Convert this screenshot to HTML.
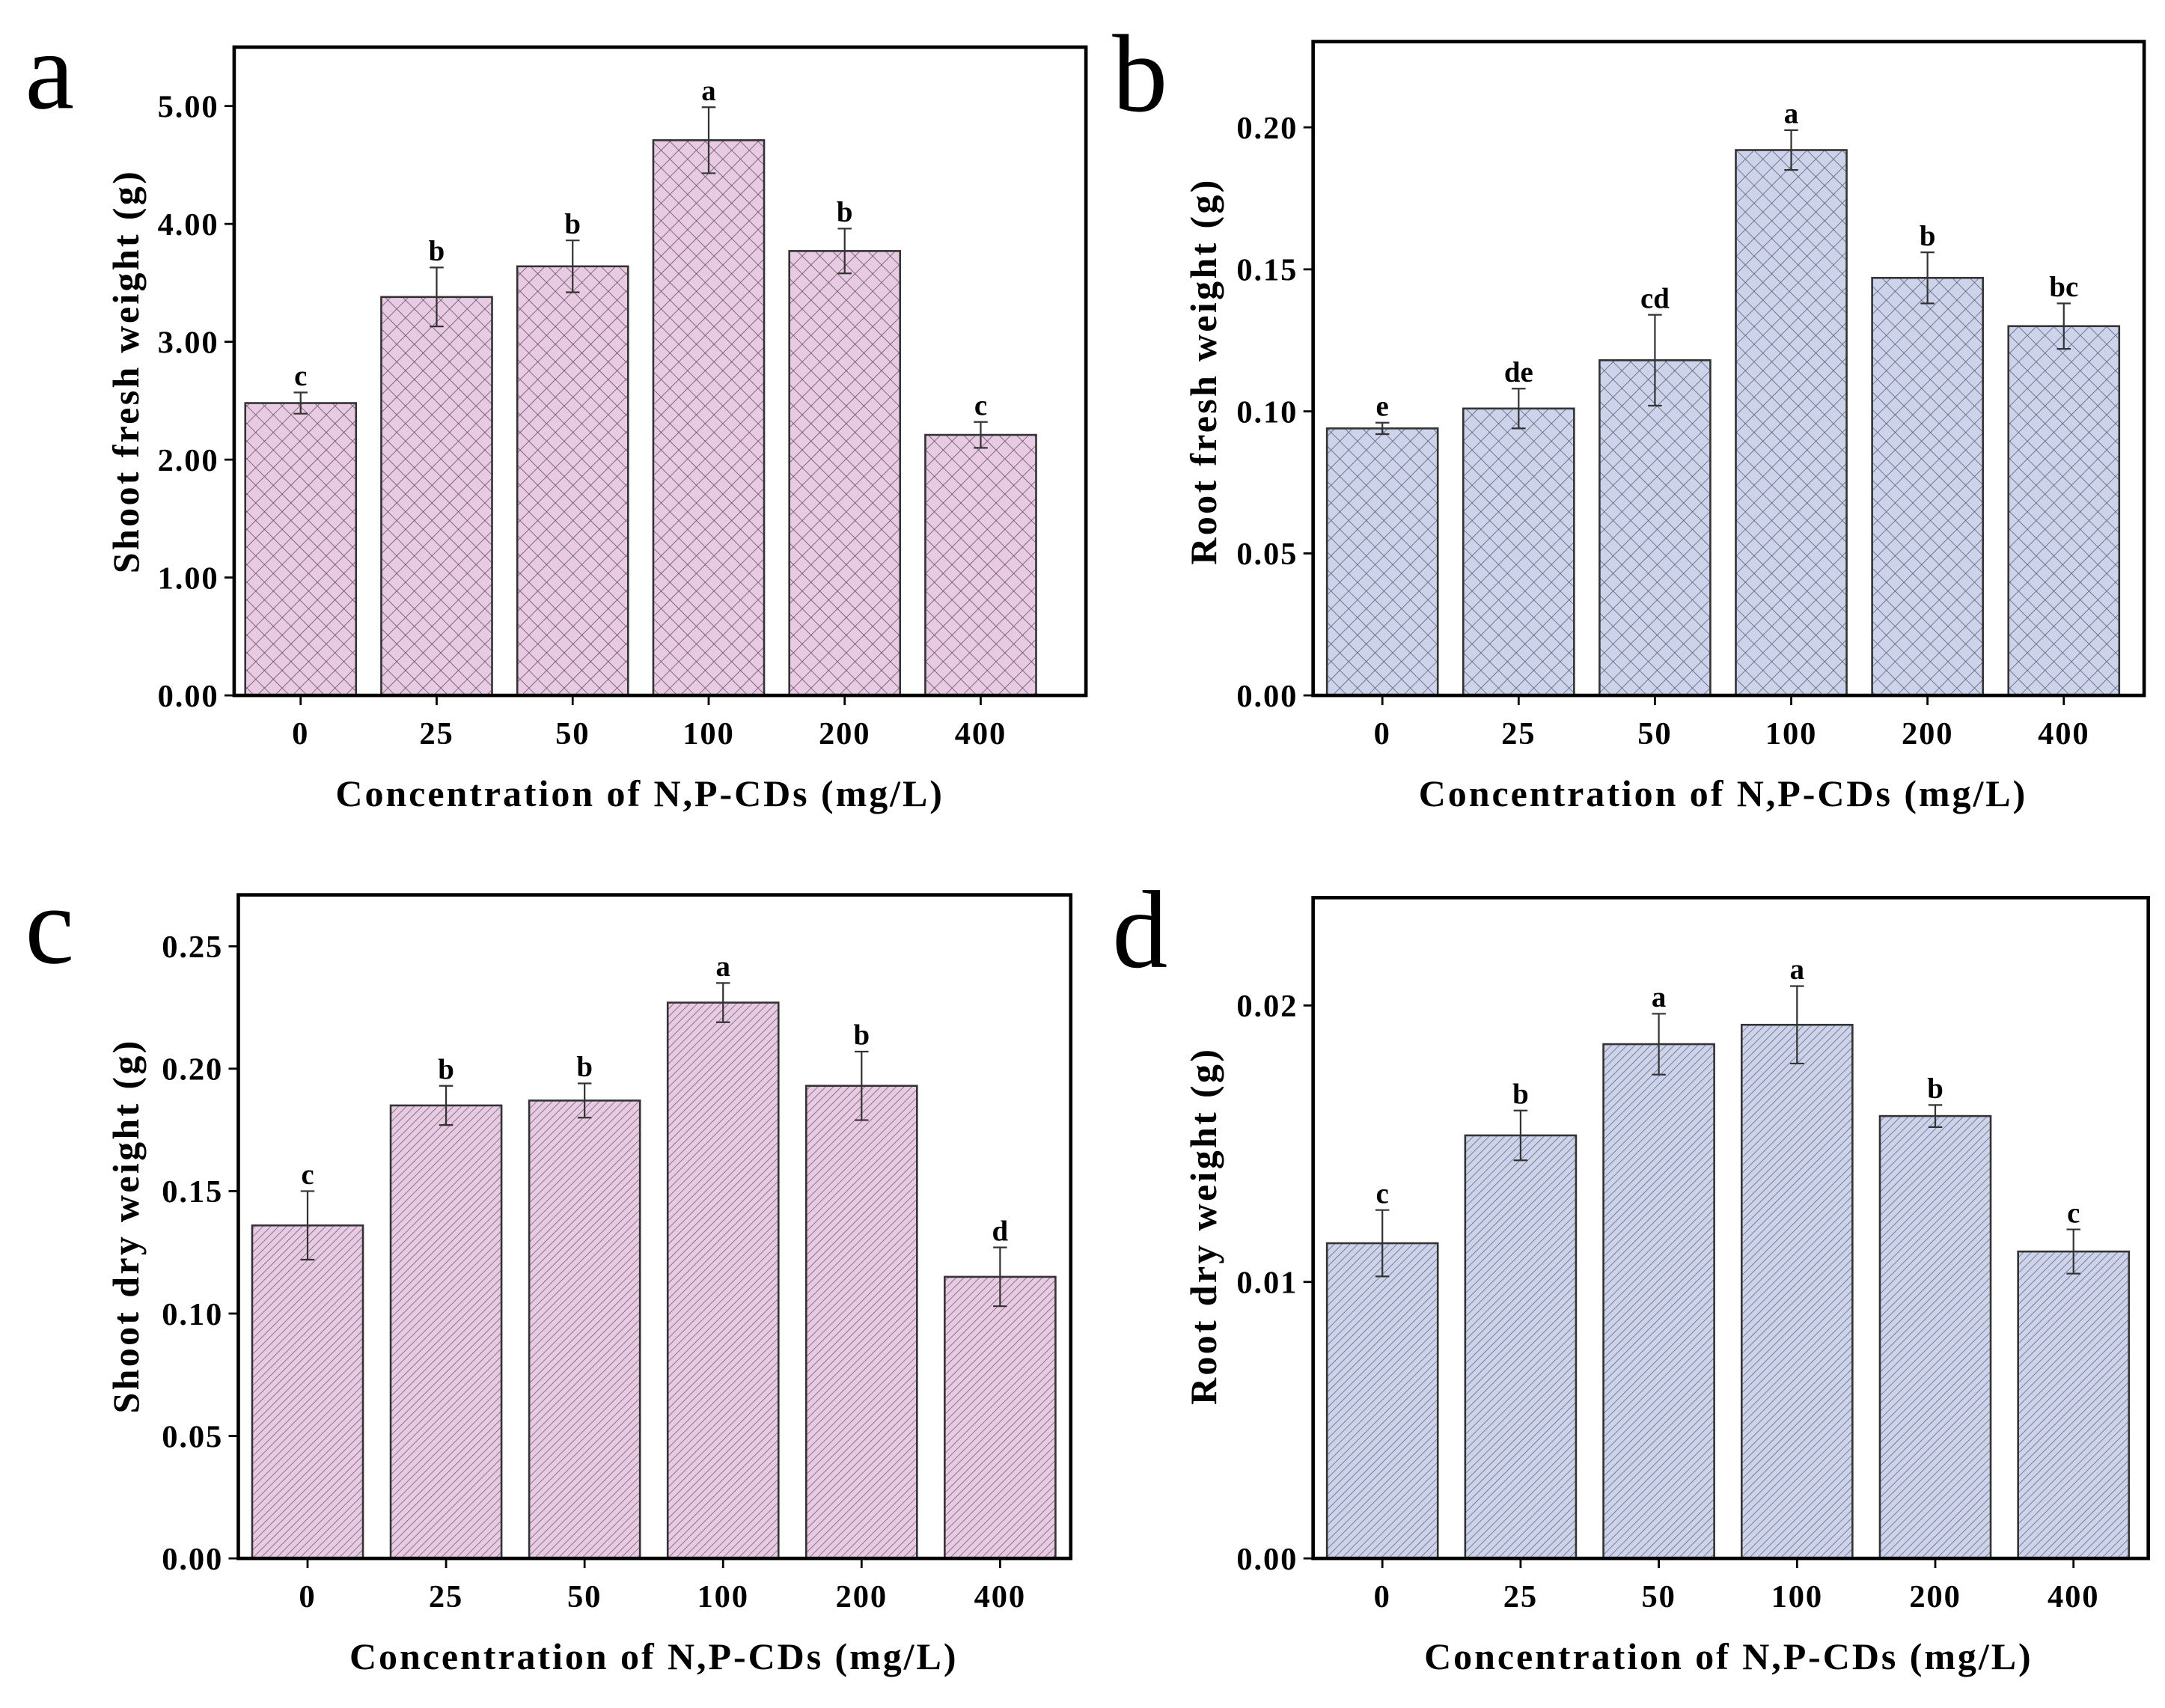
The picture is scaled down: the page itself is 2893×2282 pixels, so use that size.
<!DOCTYPE html>
<html><head><meta charset="utf-8">
<style>html,body{margin:0;padding:0;background:#fff}svg{display:block}</style>
</head><body>
<svg id="fig" width="2893" height="2282" viewBox="0 0 1563 1233" xmlns="http://www.w3.org/2000/svg" font-family="'Liberation Serif', serif">
<defs>
<pattern id="cross-pink" width="9" height="9" patternUnits="userSpaceOnUse" patternTransform="rotate(45)">
<rect width="9" height="9" fill="#e8cbe3"/><path d="M0 0V9M0 0H9" stroke="#5a4a58" stroke-width="0.8"/></pattern>
<pattern id="cross-blue" width="9" height="9" patternUnits="userSpaceOnUse" patternTransform="rotate(45)">
<rect width="9" height="9" fill="#cdd3ea"/><path d="M0 0V9M0 0H9" stroke="#55596a" stroke-width="0.8"/></pattern>
<pattern id="diag-pink" width="4" height="4" patternUnits="userSpaceOnUse" patternTransform="rotate(45)">
<rect width="4" height="4" fill="#e8cbe3"/><path d="M0 0V4" stroke="#7a6477" stroke-width="0.9"/></pattern>
<pattern id="diag-blue" width="4" height="4" patternUnits="userSpaceOnUse" patternTransform="rotate(45)">
<rect width="4" height="4" fill="#cdd3ea"/><path d="M0 0V4" stroke="#6a6f82" stroke-width="0.9"/></pattern>
</defs>
</svg>
<script>
const categories = ["0","25","50","100","200","400"];
const aValues = [2.48,3.38,3.64,4.71,3.77,2.21];
const aErrors = [0.09,0.25,0.22,0.28,0.19,0.11];
const aLetters = ["c","b","b","a","b","c"];
const aTicks = ["0.00","1.00","2.00","3.00","4.00","5.00"];
const bValues = [0.094,0.101,0.118,0.192,0.147,0.130];
const bErrors = [0.002,0.007,0.016,0.007,0.009,0.008];
const bLetters = ["e","de","cd","a","b","bc"];
const bTicks = ["0.00","0.05","0.10","0.15","0.20"];
const cValues = [0.136,0.185,0.187,0.227,0.193,0.115];
const cErrors = [0.014,0.008,0.007,0.008,0.014,0.012];
const cLetters = ["c","b","b","a","b","d"];
const cTicks = ["0.00","0.05","0.10","0.15","0.20","0.25"];
const dValues = [0.0114,0.0153,0.0186,0.0193,0.0160,0.0111];
const dErrors = [0.0012,0.0009,0.0011,0.0014,0.0004,0.0008];
const dLetters = ["c","b","a","a","b","c"];
const dTicks = ["0.00","0.01","0.02"];

const NS="http://www.w3.org/2000/svg";
const svg=document.getElementById('fig');
function mk(tag,attrs,parent,text){const e=document.createElementNS(NS,tag);for(const k in attrs)e.setAttribute(k,attrs[k]);if(text!==undefined)e.textContent=text;(parent||svg).appendChild(e);return e;}

function panel(cfg){
  const g=mk('g',{});
  
  
  const y=v=>cfg.bottom-(v/cfg.ymax)*(cfg.bottom-cfg.top);
  const x=i=>cfg.x0+i*cfg.step;
  cfg.values.forEach((v,i)=>{
    const r=mk('rect',{x:x(i)-40,y:y(v),width:80,height:cfg.bottom-y(v),fill:'url(#'+cfg.pat+')',stroke:'#333',"stroke-width":1.4},g);
    
    
    const e=cfg.errors[i];
    const eb=mk('path',{d:`M${x(i)} ${y(v+e)}V${y(v-e)}M${x(i)-5} ${y(v+e)}H${x(i)+5}M${x(i)-5} ${y(v-e)}H${x(i)+5}`,stroke:'#333',"stroke-width":1.2,fill:'none'},g);
    
    
    const t=mk('text',{x:x(i),y:y(v+e)-5,"text-anchor":'middle',"font-size":21,"font-weight":'bold'},g,cfg.letters[i]);
    
    
    const tk=mk('line',{x1:x(i),x2:x(i),y1:cfg.bottom,y2:cfg.bottom+7,stroke:'#000',"stroke-width":1.5},g);
    
    
    const xl=mk('text',{x:x(i),y:cfg.bottom+35,"text-anchor":'middle',"font-size":23,"font-weight":'bold',"letter-spacing":1},g,categories[i]);
    
    
  });
  cfg.ticks.forEach(t=>{
    const v=parseFloat(t);
    const l=mk('line',{x1:cfg.left-7,x2:cfg.left,y1:y(v),y2:y(v),stroke:'#000',"stroke-width":1.5},g);
    
    
    const tl=mk('text',{x:cfg.left-11,y:y(v)+8,"text-anchor":'end',"font-size":23,"font-weight":'bold',"letter-spacing":1},g,t);
    
    
  });
  const box=mk('rect',{x:cfg.left,y:cfg.top,width:cfg.right-cfg.left,height:cfg.bottom-cfg.top,fill:'none',stroke:'#000',"stroke-width":2.5},g);
  
  
  const yt=mk('text',{transform:`translate(${cfg.ytx},${cfg.ytc}) rotate(-90)`,"text-anchor":'middle',"font-size":27,"font-weight":'bold',"letter-spacing":1.8},g,cfg.ytitle);
  
  
  const xt=mk('text',{x:cfg.xtx,y:cfg.bottom+80,"text-anchor":'middle',"font-size":27,"font-weight":'bold',"letter-spacing":1.6},g,'Concentration of N,P-CDs (mg/L)');
  
  
  const pl=mk('text',{x:cfg.lx,y:cfg.ly,"font-size":80},g,cfg.id);
  
  
}
panel({id:'a',left:169,right:784,top:34,bottom:502,ymax:5.5,x0:217,step:98.2,values:aValues,errors:aErrors,letters:aLetters,ticks:aTicks,pat:'cross-pink',ytitle:'Shoot fresh weight (g)',ytx:100,ytc:268,xtx:462,lx:18,ly:78});
panel({id:'b',left:948,right:1548,top:30,bottom:502,ymax:0.2302,x0:998,step:98.4,values:bValues,errors:bErrors,letters:bLetters,ticks:bTicks,pat:'cross-blue',ytitle:'Root fresh weight (g)',ytx:878,ytc:268,xtx:1244,lx:803,ly:80});
panel({id:'c',left:172,right:773,top:646,bottom:1125,ymax:0.271,x0:222,step:100,values:cValues,errors:cErrors,letters:cLetters,ticks:cTicks,pat:'diag-pink',ytitle:'Shoot dry weight (g)',ytx:100,ytc:885,xtx:472,lx:18,ly:695});
panel({id:'d',left:948,right:1551,top:648,bottom:1125,ymax:0.0239,x0:998,step:99.8,values:dValues,errors:dErrors,letters:dLetters,ticks:dTicks,pat:'diag-blue',ytitle:'Root dry weight (g)',ytx:878,ytc:885,xtx:1248,lx:803,ly:698});
</script>
</body></html>
